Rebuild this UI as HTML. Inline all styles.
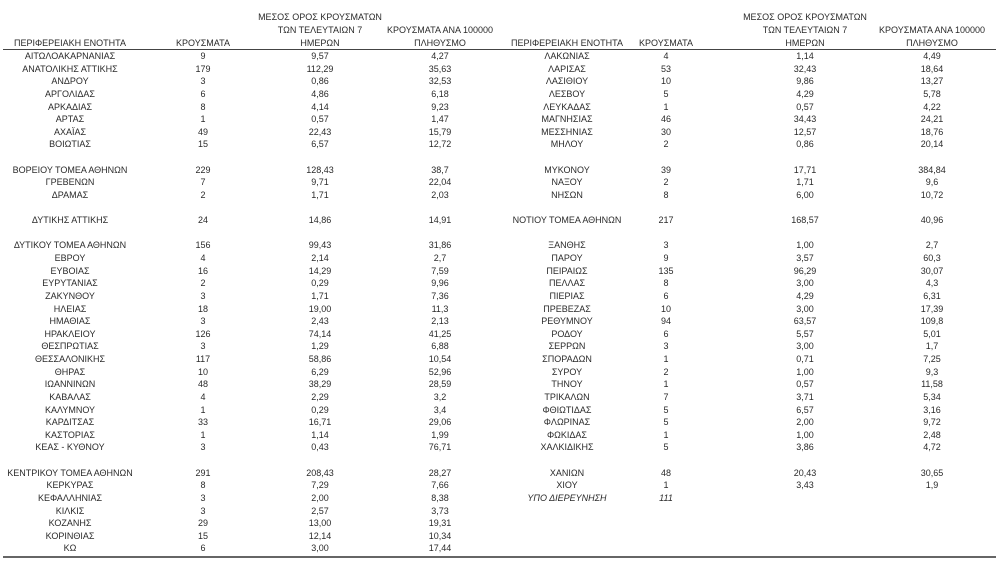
<!DOCTYPE html>
<html><head><meta charset="utf-8"><style>
body{margin:0;width:1000px;height:562px;background:#fff;overflow:hidden;position:relative;font-family:"Liberation Sans","DejaVu Sans",sans-serif;font-size:9px;color:#2a2a2a}
.h{position:absolute;text-align:center;line-height:13px;white-space:nowrap}
.col{position:absolute;top:50px}
.col div{height:12.64px;line-height:12.64px;text-align:center;white-space:nowrap}
.hl{position:absolute;left:3px;right:4px;height:1px;background:#444}
</style></head><body>
<div class="h" style="left:0;width:140px;top:37px">ΠΕΡΙΦΕΡΕΙΑΚΗ ΕΝΟΤΗΤΑ</div>
<div class="h" style="left:163px;width:80px;top:37px">ΚΡΟΥΣΜΑΤΑ</div>
<div class="h" style="left:250px;width:140px;top:11px">ΜΕΣΟΣ ΟΡΟΣ ΚΡΟΥΣΜΑΤΩΝ<br>ΤΩΝ ΤΕΛΕΥΤΑΙΩΝ 7<br>ΗΜΕΡΩΝ</div>
<div class="h" style="left:380px;width:120px;top:24px">ΚΡΟΥΣΜΑΤΑ ΑΝΑ 100000<br>ΠΛΗΘΥΣΜΟ</div>
<div class="h" style="left:497px;width:140px;top:37px">ΠΕΡΙΦΕΡΕΙΑΚΗ ΕΝΟΤΗΤΑ</div>
<div class="h" style="left:626px;width:80px;top:37px">ΚΡΟΥΣΜΑΤΑ</div>
<div class="h" style="left:735px;width:140px;top:11px">ΜΕΣΟΣ ΟΡΟΣ ΚΡΟΥΣΜΑΤΩΝ<br>ΤΩΝ ΤΕΛΕΥΤΑΙΩΝ 7<br>ΗΜΕΡΩΝ</div>
<div class="h" style="left:872px;width:120px;top:24px">ΚΡΟΥΣΜΑΤΑ ΑΝΑ 100000<br>ΠΛΗΘΥΣΜΟ</div>
<div class="hl" style="top:49px"></div>
<div class="hl" style="top:556px;height:2px;background:#666"></div>

<div class="col" style="left:0;width:140px">
<div>ΑΙΤΩΛΟΑΚΑΡΝΑΝΙΑΣ</div><div>ΑΝΑΤΟΛΙΚΗΣ ΑΤΤΙΚΗΣ</div><div>ΑΝΔΡΟΥ</div><div>ΑΡΓΟΛΙΔΑΣ</div><div>ΑΡΚΑΔΙΑΣ</div><div>ΑΡΤΑΣ</div><div>ΑΧΑΪΑΣ</div><div>ΒΟΙΩΤΙΑΣ</div><div></div><div>ΒΟΡΕΙΟΥ ΤΟΜΕΑ ΑΘΗΝΩΝ</div><div>ΓΡΕΒΕΝΩΝ</div><div>ΔΡΑΜΑΣ</div><div></div><div>ΔΥΤΙΚΗΣ ΑΤΤΙΚΗΣ</div><div></div><div>ΔΥΤΙΚΟΥ ΤΟΜΕΑ ΑΘΗΝΩΝ</div><div>ΕΒΡΟΥ</div><div>ΕΥΒΟΙΑΣ</div><div>ΕΥΡΥΤΑΝΙΑΣ</div><div>ΖΑΚΥΝΘΟΥ</div><div>ΗΛΕΙΑΣ</div><div>ΗΜΑΘΙΑΣ</div><div>ΗΡΑΚΛΕΙΟΥ</div><div>ΘΕΣΠΡΩΤΙΑΣ</div><div>ΘΕΣΣΑΛΟΝΙΚΗΣ</div><div>ΘΗΡΑΣ</div><div>ΙΩΑΝΝΙΝΩΝ</div><div>ΚΑΒΑΛΑΣ</div><div>ΚΑΛΥΜΝΟΥ</div><div>ΚΑΡΔΙΤΣΑΣ</div><div>ΚΑΣΤΟΡΙΑΣ</div><div>ΚΕΑΣ - ΚΥΘΝΟΥ</div><div></div><div>ΚΕΝΤΡΙΚΟΥ ΤΟΜΕΑ ΑΘΗΝΩΝ</div><div>ΚΕΡΚΥΡΑΣ</div><div>ΚΕΦΑΛΛΗΝΙΑΣ</div><div>ΚΙΛΚΙΣ</div><div>ΚΟΖΑΝΗΣ</div><div>ΚΟΡΙΝΘΙΑΣ</div><div>ΚΩ</div>
</div>
<div class="col" style="left:163px;width:80px">
<div>9</div><div>179</div><div>3</div><div>6</div><div>8</div><div>1</div><div>49</div><div>15</div><div></div><div>229</div><div>7</div><div>2</div><div></div><div>24</div><div></div><div>156</div><div>4</div><div>16</div><div>2</div><div>3</div><div>18</div><div>3</div><div>126</div><div>3</div><div>117</div><div>10</div><div>48</div><div>4</div><div>1</div><div>33</div><div>1</div><div>3</div><div></div><div>291</div><div>8</div><div>3</div><div>3</div><div>29</div><div>15</div><div>6</div>
</div>
<div class="col" style="left:270px;width:100px">
<div>9,57</div><div>112,29</div><div>0,86</div><div>4,86</div><div>4,14</div><div>0,57</div><div>22,43</div><div>6,57</div><div></div><div>128,43</div><div>9,71</div><div>1,71</div><div></div><div>14,86</div><div></div><div>99,43</div><div>2,14</div><div>14,29</div><div>0,29</div><div>1,71</div><div>19,00</div><div>2,43</div><div>74,14</div><div>1,29</div><div>58,86</div><div>6,29</div><div>38,29</div><div>2,29</div><div>0,29</div><div>16,71</div><div>1,14</div><div>0,43</div><div></div><div>208,43</div><div>7,29</div><div>2,00</div><div>2,57</div><div>13,00</div><div>12,14</div><div>3,00</div>
</div>
<div class="col" style="left:390px;width:100px">
<div>4,27</div><div>35,63</div><div>32,53</div><div>6,18</div><div>9,23</div><div>1,47</div><div>15,79</div><div>12,72</div><div></div><div>38,7</div><div>22,04</div><div>2,03</div><div></div><div>14,91</div><div></div><div>31,86</div><div>2,7</div><div>7,59</div><div>9,96</div><div>7,36</div><div>11,3</div><div>2,13</div><div>41,25</div><div>6,88</div><div>10,54</div><div>52,96</div><div>28,59</div><div>3,2</div><div>3,4</div><div>29,06</div><div>1,99</div><div>76,71</div><div></div><div>28,27</div><div>7,66</div><div>8,38</div><div>3,73</div><div>19,31</div><div>10,34</div><div>17,44</div>
</div>

<div class="col" style="left:497px;width:140px">
<div>ΛΑΚΩΝΙΑΣ</div><div>ΛΑΡΙΣΑΣ</div><div>ΛΑΣΙΘΙΟΥ</div><div>ΛΕΣΒΟΥ</div><div>ΛΕΥΚΑΔΑΣ</div><div>ΜΑΓΝΗΣΙΑΣ</div><div>ΜΕΣΣΗΝΙΑΣ</div><div>ΜΗΛΟΥ</div><div></div><div>ΜΥΚΟΝΟΥ</div><div>ΝΑΞΟΥ</div><div>ΝΗΣΩΝ</div><div></div><div>ΝΟΤΙΟΥ ΤΟΜΕΑ ΑΘΗΝΩΝ</div><div></div><div>ΞΑΝΘΗΣ</div><div>ΠΑΡΟΥ</div><div>ΠΕΙΡΑΙΩΣ</div><div>ΠΕΛΛΑΣ</div><div>ΠΙΕΡΙΑΣ</div><div>ΠΡΕΒΕΖΑΣ</div><div>ΡΕΘΥΜΝΟΥ</div><div>ΡΟΔΟΥ</div><div>ΣΕΡΡΩΝ</div><div>ΣΠΟΡΑΔΩΝ</div><div>ΣΥΡΟΥ</div><div>ΤΗΝΟΥ</div><div>ΤΡΙΚΑΛΩΝ</div><div>ΦΘΙΩΤΙΔΑΣ</div><div>ΦΛΩΡΙΝΑΣ</div><div>ΦΩΚΙΔΑΣ</div><div>ΧΑΛΚΙΔΙΚΗΣ</div><div></div><div>ΧΑΝΙΩΝ</div><div>ΧΙΟΥ</div><div style="font-style:italic">ΥΠΟ ΔΙΕΡΕΥΝΗΣΗ</div>
</div>
<div class="col" style="left:626px;width:80px">
<div>4</div><div>53</div><div>10</div><div>5</div><div>1</div><div>46</div><div>30</div><div>2</div><div></div><div>39</div><div>2</div><div>8</div><div></div><div>217</div><div></div><div>3</div><div>9</div><div>135</div><div>8</div><div>6</div><div>10</div><div>94</div><div>6</div><div>3</div><div>1</div><div>2</div><div>1</div><div>7</div><div>5</div><div>5</div><div>1</div><div>5</div><div></div><div>48</div><div>1</div><div style="font-style:italic">111</div>
</div>
<div class="col" style="left:755px;width:100px">
<div>1,14</div><div>32,43</div><div>9,86</div><div>4,29</div><div>0,57</div><div>34,43</div><div>12,57</div><div>0,86</div><div></div><div>17,71</div><div>1,71</div><div>6,00</div><div></div><div>168,57</div><div></div><div>1,00</div><div>3,57</div><div>96,29</div><div>3,00</div><div>4,29</div><div>3,00</div><div>63,57</div><div>5,57</div><div>3,00</div><div>0,71</div><div>1,00</div><div>0,57</div><div>3,71</div><div>6,57</div><div>2,00</div><div>1,00</div><div>3,86</div><div></div><div>20,43</div><div>3,43</div>
</div>
<div class="col" style="left:882px;width:100px">
<div>4,49</div><div>18,64</div><div>13,27</div><div>5,78</div><div>4,22</div><div>24,21</div><div>18,76</div><div>20,14</div><div></div><div>384,84</div><div>9,6</div><div>10,72</div><div></div><div>40,96</div><div></div><div>2,7</div><div>60,3</div><div>30,07</div><div>4,3</div><div>6,31</div><div>17,39</div><div>109,8</div><div>5,01</div><div>1,7</div><div>7,25</div><div>9,3</div><div>11,58</div><div>5,34</div><div>3,16</div><div>9,72</div><div>2,48</div><div>4,72</div><div></div><div>30,65</div><div>1,9</div>
</div>
</body></html>
